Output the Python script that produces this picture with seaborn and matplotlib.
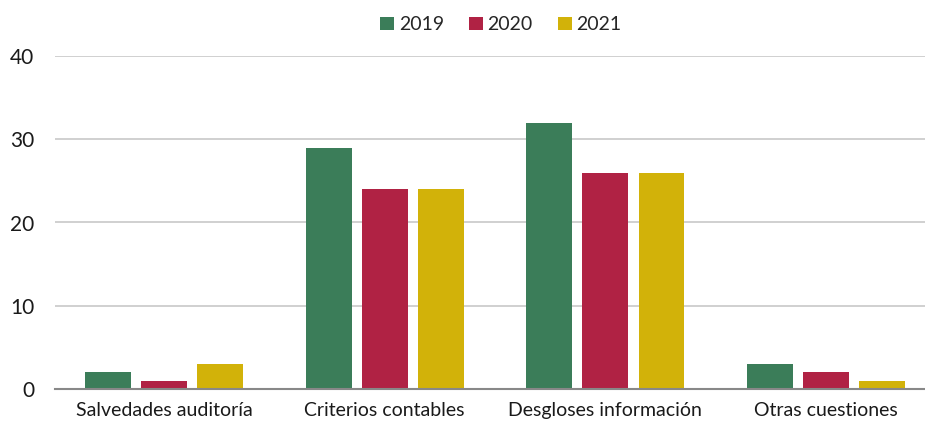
import matplotlib
matplotlib.use("Agg")
import matplotlib.pyplot as plt
import seaborn as sns
import pandas as pd

categories = ["Salvedades auditoría", "Criterios contables", "Desgloses información", "Otras cuestiones"]
years = ["2019", "2020", "2021"]
values_2019 = [2, 29, 32, 3]
values_2020 = [1, 24, 26, 2]
values_2021 = [3, 24, 26, 1]
colors = ["#3B7D59", "#B02244", "#D2B209"]

rows = []
for y, vals in zip(years, [values_2019, values_2020, values_2021]):
    for c, v in zip(categories, vals):
        rows.append({"cat": c, "year": y, "value": v})
df = pd.DataFrame(rows)

sns.set_theme(style="white")
plt.rcParams["font.family"] = ["Lato", "DejaVu Sans"]

fig = plt.figure(figsize=(9.25, 4.23), dpi=100)
ax = fig.add_axes([55/925, 34/423, 870/925, (389-56)/423])

sns.barplot(data=df, x="cat", y="value", hue="year", palette=colors,
            width=0.762, gap=0.18, ax=ax, saturation=1, legend=True, linewidth=0)

ax.set_ylim(0, 40)
ax.set_xlim(-0.494, 3.448)
ax.set_yticks([0, 10, 20, 30, 40])
ax.yaxis.grid(True, color="#c8c8c8", linewidth=1.2)
ax.set_axisbelow(True)
for s in ["top", "right", "left"]:
    ax.spines[s].set_visible(False)
ax.spines["bottom"].set_color("#888888")
ax.spines["bottom"].set_linewidth(1.5)
ax.spines["bottom"].set_zorder(5)
ax.set_xlabel("")
ax.set_ylabel("")
ax.tick_params(axis="y", length=0, pad=15, labelsize=15, labelcolor="#1a1a1a")
ax.tick_params(axis="x", length=0, pad=9, labelsize=14, labelcolor="#1a1a1a")

leg = ax.legend(loc="center", bbox_to_anchor=(501/925, 1 - 25/423), bbox_transform=fig.transFigure,
                ncol=3, frameon=False, fontsize=14, handlelength=0.7, handleheight=0.7,
                handletextpad=0.25, columnspacing=1.3)

fig.savefig("out.png", dpi=100)
